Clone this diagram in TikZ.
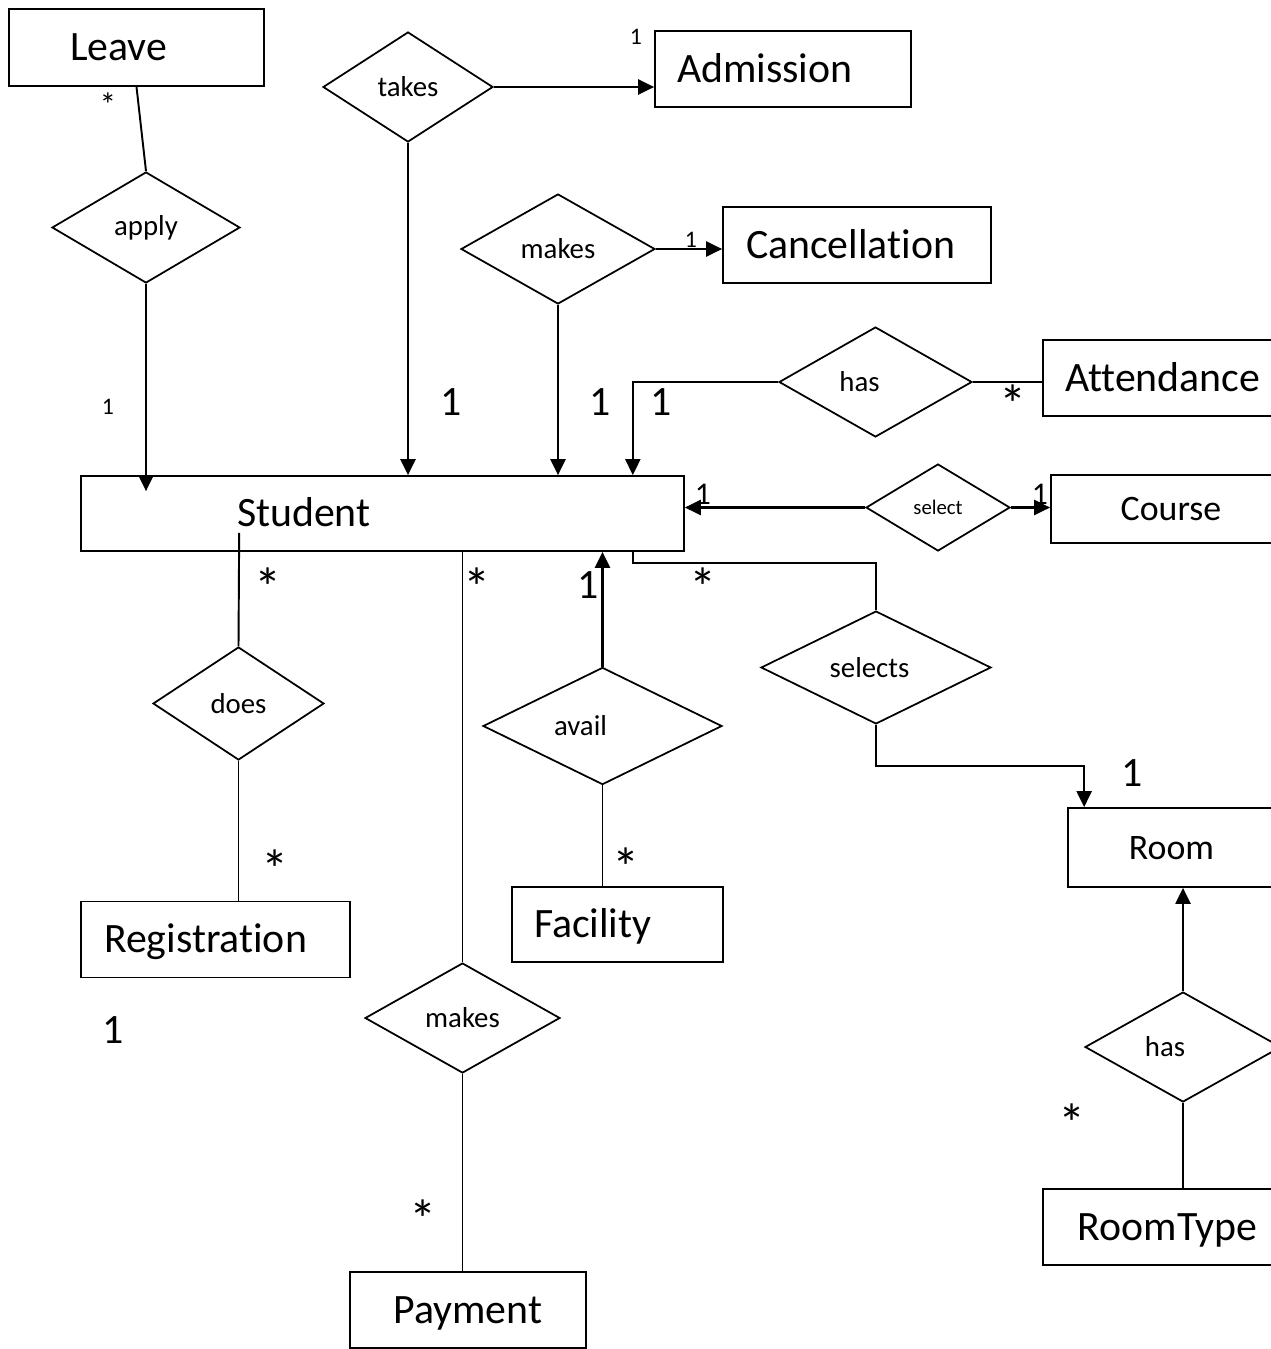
\documentclass[tikz,border=0pt]{standalone}
\usepackage{fontspec}
\setmainfont{Carlito}[Ligatures=NoCommon, Contextuals=NoAlternate]
\usetikzlibrary{arrows.meta, shapes.geometric, calc}
\tikzset{
    entity/.style={draw, line width=1pt, rectangle, inner ysep=0pt, text height=15.3pt, text depth=0pt, font=\fontsize{23.8}{28}\selectfont},
    smallentity/.style={entity, text height=13.1pt, font=\fontsize{20.4}{24}\selectfont},
    relation/.style={draw, line width=1pt, diamond, inner sep=0pt, font=\fontsize{16.4}{20}\selectfont},
    link/.style={line width=1.1pt},
    arrowlink/.style={line width=1.3pt, -{Triangle[length=0.32cm,width=0.3cm]}},
    multbig/.style={inner sep=0pt, font=\fontsize{23.8}{28}\selectfont},
    multmid/.style={inner sep=0pt, font=\fontsize{18}{22}\selectfont},
    multsmall/.style={inner sep=0pt, font=\fontsize{13.5}{16}\selectfont},
    starbig/.style={inner sep=0pt, font=\fontsize{31}{36}\selectfont},
    starsmall/.style={inner sep=0pt, font=\fontsize{19}{22}\selectfont}
}
\begin{document}
\begin{tikzpicture}[x=0.02cm, y=-0.02cm]
\useasboundingbox (0,0) rectangle (1271,1349);
\clip (0,0) rectangle (1271,1349);

% entities
\node[entity, minimum width=5.10cm, minimum height=1.54cm, text width=2.66cm, inner xsep=1.22cm, align=left] (leave) at (136.5,47.5) {Leave};
\node[entity, minimum width=5.12cm, minimum height=1.52cm, text width=4.24cm, inner xsep=0.44cm, align=left] (admission) at (783,69) {Admission};
\node[entity, minimum width=5.36cm, minimum height=1.52cm, text width=4.44cm, inner xsep=0.46cm, align=left] (cancellation) at (857,245) {Cancellation};
\node[entity, minimum width=5.00cm, minimum height=1.52cm, text width=4.12cm, inner xsep=0.44cm, align=left] (attendance) at (1168,378) {Attendance};
\node[entity, minimum width=12.06cm, minimum height=1.50cm, text width=5.82cm, inner xsep=3.12cm, align=left] (student) at (382.5,513.5) {Student};
\node[smallentity, minimum width=4.80cm, minimum height=1.36cm] (course) at (1171,509) {Course};
\node[entity, minimum width=5.38cm, minimum height=1.52cm, text width=4.46cm, inner xsep=0.46cm, align=left] (registration) at (215.5,939.5) {Registration};
\node[entity, minimum width=4.22cm, minimum height=1.50cm, text width=3.34cm, inner xsep=0.44cm, align=left] (facility) at (617.5,924.5) {Facility};
\node[entity, minimum width=4.72cm, minimum height=1.52cm] (payment) at (468,1310) {Payment};
\node[smallentity, minimum width=4.14cm, minimum height=1.58cm] (room) at (1171.5,847.5) {Room};
\node[entity, minimum width=4.98cm, minimum height=1.52cm] (roomtype) at (1167.5,1227) {RoomType};

% relationships
\node[relation, minimum width=3.76cm, minimum height=2.22cm] (apply) at (146,227.5) {apply};
\node[relation, minimum width=3.40cm, minimum height=2.20cm] (takes) at (408,87) {takes};
\node[relation, minimum width=3.88cm, minimum height=2.20cm] (makescancel) at (558,249) {makes};
\node[relation, minimum width=3.86cm, minimum height=2.20cm] (hasattend) at (875.5,382) {has\hspace*{0.64cm}};
\node[relation, minimum width=2.88cm, minimum height=1.74cm, font=\fontsize{11.8}{14}\selectfont] (select) at (938,507.5) {select};
\node[relation, minimum width=3.42cm, minimum height=2.26cm] (does) at (238.5,703.5) {does};
\node[relation, minimum width=3.90cm, minimum height=2.20cm] (makespay) at (462.5,1018) {makes};
\node[relation, minimum width=4.78cm, minimum height=2.20cm] (avail) at (602.5,726) {avail\hspace*{0.88cm}};
\node[relation, minimum width=4.60cm, minimum height=2.18cm] (selects) at (876,667.5) {selects\hspace*{0.26cm}};
\node[relation, minimum width=3.92cm, minimum height=2.20cm] (hasroom) at (1183,1047) {has\hspace*{0.72cm}};

% connectors
\draw[link] (leave.south) -- (apply.north);
\draw[arrowlink] (apply.south) -- ($(apply.south |- student.north)+(0,16)$);
\draw[arrowlink] (takes.east) -- (takes.east -| admission.west);
\draw[arrowlink] (takes.south) -- (takes.south |- student.north);
\draw[arrowlink] (makescancel.east) -- (makescancel.east -| cancellation.west);
\draw[arrowlink] (makescancel.south) -- (makescancel.south |- student.north);
\draw[arrowlink] (hasattend.west) -| ($(student.north east)+(-52,0)$);
\draw[link] (hasattend.east) -- (hasattend.east -| attendance.west);
\draw[arrowlink] (select.west) -- (select.west -| student.east);
\draw[arrowlink] (select.east) -- (select.east -| course.west);
\draw[link] ($(student.south west)+(159,-19)$) -- (does.north);
\draw[link] (does.south) -- (does.south |- registration.north);
\draw[link] (makespay.north |- student.south) -- (makespay.north);
\draw[link] (makespay.south) -- (makespay.south |- payment.north);
\draw[arrowlink] (avail.north) -- (avail.north |- student.south);
\draw[link] (avail.south) -- (avail.south |- facility.north);
\draw[link] ($(student.south east)+(-52,0)$) -- ++(0,11) -| (selects.north);
\draw[arrowlink] (selects.south) -- ++(0,41) -| ($(room.north west)+(17,0)$);
\draw[arrowlink] (hasroom.north) -- (hasroom.north |- room.south);
\draw[link] (hasroom.south) -- (hasroom.south |- roomtype.north);

% multiplicities
\node[starsmall] (mleave) at (108,105) {*};
\node[multsmall] (mapply) at (108,407) {1};
\node[multsmall] (madmission) at (636,37) {1};
\node[multsmall] (mcancel) at (691,240) {1};
\node[multbig] (mtakes) at (451,402) {1};
\node[multbig] (mmakes) at (600,402) {1};
\node[multbig] (mhas) at (661,402) {1};
\node[starbig] (mattend) at (1013,404) {*};
\node[multmid] (mselstudent) at (703,494) {1};
\node[multmid] (mselcourse) at (1040,494) {1};
\node[starbig] (mdoes) at (268,587) {*};
\node[starbig] (mpay) at (477,587) {*};
\node[multbig] (mavail) at (588,585) {1};
\node[starbig] (mselects) at (703,587) {*};
\node[starbig] (mreg) at (275,869) {*};
\node[multbig] (mregone) at (113,1030) {1};
\node[starbig] (mfacility) at (626,867) {*};
\node[multbig] (mroom) at (1132,773) {1};
\node[starbig] (mpayment) at (423,1219) {*};
\node[starbig] (mroomtype) at (1072,1123) {*};
\end{tikzpicture}
\end{document}
